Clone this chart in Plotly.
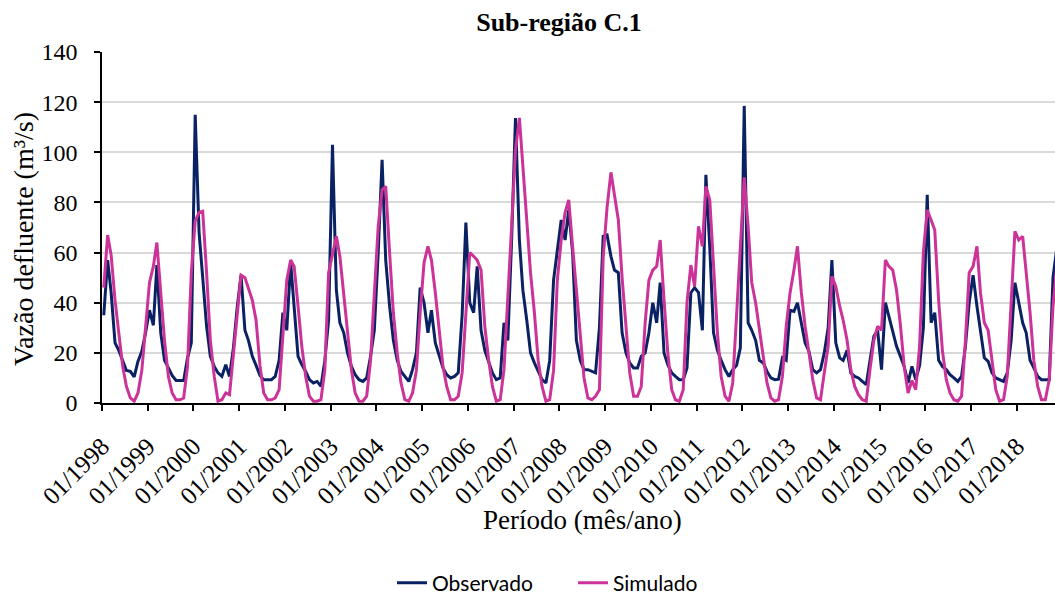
import plotly.graph_objects as go

# Monthly discharge, Jan/1998 .. Nov/2018 (one row per year)
observado = [
    35, 57, 44, 24, 21, 17, 13, 12.6, 10.4, 16.6, 20.6, 28,          # 1998
    37, 31, 55, 28, 17, 14, 11, 9, 9, 9, 18, 24,                      # 1999
    115, 68, 50, 30.6, 18.6, 14.6, 12, 10.6, 15.3, 10.6, 22, 38,      # 2000
    51, 29, 25, 18.6, 15, 11, 9.3, 9.3, 9.3, 10.6, 17, 36,            # 2001
    29, 56, 38, 18.6, 15.3, 12.6, 9.3, 8, 8.6, 6.6, 17, 33,           # 2002
    103, 45, 32, 28, 20, 14.6, 11.3, 9.3, 8.6, 10, 18.6, 29,          # 2003
    60, 97, 57, 38.6, 25, 17, 12.6, 10.6, 8.6, 13.3, 20, 46,          # 2004
    40, 28, 37, 24, 18.6, 14, 11.3, 10, 10.6, 12, 35, 72,             # 2005
    40, 36, 54.5, 29, 21, 16, 12, 9.3, 10, 32, 25, 65,                # 2006
    113.7, 65, 45, 33, 20, 16, 12.6, 9.3, 8, 17, 49, 60,              # 2007
    73, 65, 77, 60, 25, 17, 13.3, 13.3, 12.6, 12, 30, 66.5,           # 2008
    67, 58.5, 53, 52, 28, 20, 16, 14, 14, 18.6, 20, 28,               # 2009
    40, 32, 48, 20, 15.3, 12, 10.6, 9.3, 9.3, 14, 44, 46,             # 2010
    44, 29, 91, 62, 28, 21, 17, 13.3, 10.6, 13.3, 15, 22,             # 2011
    118.5, 32, 29, 25, 17, 16, 12.6, 10, 9.3, 9.5, 18, 17,            # 2012
    37, 36.5, 40, 32, 24, 20.6, 13.3, 12, 13.3, 20, 30, 57,           # 2013
    24, 18, 17, 21, 12, 10.6, 10, 8.6, 7.3, 17, 26.6, 29,             # 2014
    13.3, 40, 34.6, 29, 22.6, 18.6, 14.6, 8, 14.6, 9.3, 15, 30,       # 2015
    83, 32, 36, 17, 14.6, 13.3, 11.3, 10, 8.6, 10.6, 22.6, 40,        # 2016
    51, 38.6, 28, 18, 16.6, 12, 10, 9.3, 8.6, 12, 25, 48,             # 2017
    40, 32, 28, 17, 14, 10.6, 9.3, 9.3, 9.3, 50, 62,                  # 2018
]

simulado = [
    46, 67, 59, 41, 28, 14.6, 6.6, 2, 0.7, 4, 13, 30.6,               # 1998
    48, 54.5, 64, 44, 25, 10.6, 4, 1.3, 1.3, 2, 14.6, 52,             # 1999
    72.5, 76, 76.5, 52, 25, 10.6, 0.7, 1.3, 4, 3.3, 18.6, 36,         # 2000
    51, 50, 46, 41, 33, 15, 4, 1.3, 1.3, 2, 5.3, 28,                  # 2001
    49, 57, 54.5, 38.6, 22.6, 10.6, 2.7, 0.7, 0.7, 1.3, 13.3, 52,     # 2002
    60, 66.5, 58.5, 44, 28, 13.3, 4, 0.7, 0.7, 2.7, 17, 44,           # 2003
    70.5, 85, 86.4, 60, 36, 20, 8, 1.3, 0.7, 4, 13, 36,               # 2004
    56, 62.5, 57, 44, 28, 14.6, 6.6, 1.3, 1.3, 2.7, 12, 35,           # 2005
    60, 58.5, 57, 53, 30.6, 17, 6.6, 0.7, 1.3, 13.3, 45, 70.5,        # 2006
    101, 113.7, 94.4, 70.5, 52, 36, 17, 6.6, 0.7, 1.3, 13, 49,        # 2007
    65, 76, 81, 62.5, 44, 25, 10, 2, 1.3, 2.7, 5.3, 58,               # 2008
    78, 92, 82, 73, 50, 32, 12, 2.7, 2.7, 6.6, 32, 49,                # 2009
    53, 54.5, 65, 41, 20, 5.3, 1.3, 0.7, 5.3, 40, 55, 46.5,           # 2010
    70.5, 62.5, 86.4, 81, 54.5, 28, 10.6, 2.7, 0.7, 8, 35, 62,        # 2011
    90, 70.5, 48, 40, 29, 17, 8, 2, 0.7, 1.3, 10.6, 30.6,             # 2012
    44, 53, 62.5, 44, 30.6, 20, 9.3, 2, 1.3, 12, 22.6, 50.5,          # 2013
    46.5, 38.6, 33, 25, 13.3, 6.6, 3.3, 1.3, 0.7, 13.3, 25, 30.6,     # 2014
    29, 57, 54.5, 53, 45, 31, 14.6, 4, 9, 5.3, 22.6, 60,              # 2015
    77, 73, 69, 41, 21, 9.3, 4, 1.3, 0.7, 2.7, 25, 52,                # 2016
    54.5, 62.5, 44, 32, 29, 17, 5.3, 0.7, 1.3, 10.6, 38.6, 68.5,      # 2017
    65, 66.5, 52, 36, 17, 6.6, 1.3, 1.3, 9.3, 38.6, 55,               # 2018
]

# one point per month, placed mid-month
meses = [f"{1998 + i // 12}-{i % 12 + 1:02d}-15" for i in range(len(observado))]

serif = "Times New Roman"
sans = "Lato"

fig = go.Figure()
fig.add_trace(go.Scatter(x=meses, y=observado, mode="lines", name="Observado",
                         line=dict(color="#0a2263", width=3)))
fig.add_trace(go.Scatter(x=meses, y=simulado, mode="lines", name="Simulado",
                         line=dict(color="#cc3399", width=3)))

fig.update_layout(
    template="none",
    width=1055, height=595,
    margin=dict(l=102, r=0, t=52, b=192, autoexpand=False),
    paper_bgcolor="white", plot_bgcolor="white",
    font=dict(family=serif, color="black"),
    title=dict(text="<b>Sub-região C.1</b>", x=559 / 1055, xref="container",
               xanchor="center", y=1 - 22 / 595, yref="container", yanchor="middle",
               font=dict(family=serif, size=26, color="black")),
    xaxis=dict(type="date", range=["1998-01-01", "2018-10-31"],
               tick0="1998-01-01", dtick="M12", tickformat="%m/%Y",
               tickangle=-45, ticks="outside", ticklen=6, tickwidth=1.5,
               tickcolor="black", showline=True, linecolor="black", linewidth=1.5,
               showgrid=False, zeroline=False, ticklabelstandoff=11,
               automargin=False,
               tickfont=dict(family=serif, size=25, color="black")),
    yaxis=dict(range=[0, 140], dtick=20, ticks="outside", ticklen=6, tickwidth=1.5,
               tickcolor="black", showline=True, linecolor="black", linewidth=1.5,
               showgrid=True, gridcolor="#d9d9d9", gridwidth=1.5, zeroline=False,
               ticklabelstandoff=12, automargin=False,
               tickfont=dict(family=serif, size=24, color="black")),
    legend=dict(orientation="h", x=(392 - 102) / 953, xanchor="left",
                y=(403 - 583) / 351, yanchor="middle",
                entrywidth=136, entrywidthmode="pixels",
                bgcolor="rgba(0,0,0,0)",
                font=dict(family=sans, size=21, color="black")),
    annotations=[
        dict(text="Vazão defluente (m³/s)", xref="paper", yref="paper",
             x=(24 - 102) / 953, y=(403 - 239) / 351, textangle=-90,
             showarrow=False, xanchor="center", yanchor="middle",
             font=dict(family=serif, size=28, color="black")),
        dict(text="Período (mês/ano)", xref="paper", yref="paper",
             x=(582 - 102) / 953, y=(403 - 520) / 351,
             showarrow=False, xanchor="center", yanchor="middle",
             font=dict(family=serif, size=27, color="black")),
    ],
)

fig.write_html("out.html")
